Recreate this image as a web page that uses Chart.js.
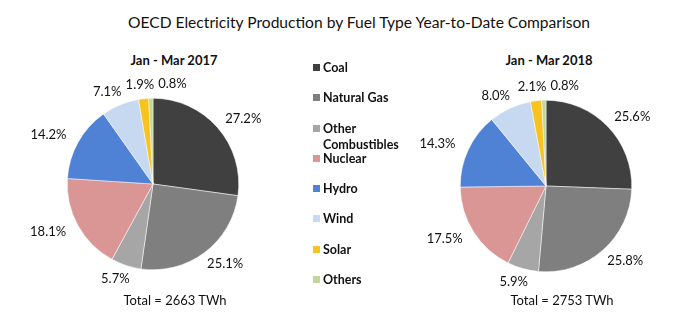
<!DOCTYPE html>
<html>
<head>
<meta charset="utf-8">
<script src="https://cdn.jsdelivr.net/npm/chart.js@4"></script>
<style>
  html, body { margin: 0; padding: 0; background: #fff; }
  body { width: 680px; height: 330px; position: relative; overflow: hidden; font-family: Lato, "Open Sans", sans-serif; color: #111; }
  .title { position: absolute; left: 0; width: 718px; top: 13px; text-align: center; font-size: 15.6px; }
  .sub { position: absolute; top: 52px; width: 200px; text-align: center; font-size: 13px; font-weight: bold; }
  .total { position: absolute; top: 292px; width: 200px; text-align: center; font-size: 13px; }
  .pie { position: absolute; }
  #legend { position: absolute; left: 313px; top: 60px; font-size: 12.5px; font-weight: bold; z-index: 2; }
  #legend .item { position: relative; height: 30.3px; padding-left: 10px; line-height: 16px; }
  #legend .box { position: absolute; left: 0; top: 4px; width: 7px; height: 7px; }
</style>
</head>
<body>
<div class="title">OECD Electricity Production by Fuel Type Year-to-Date Comparison</div>
<div class="sub" style="left:74px">Jan - Mar 2017</div>
<div class="sub" style="left:449px">Jan - Mar 2018</div>
<div class="pie" style="left:3px;top:64px;width:300px;height:240px"><canvas id="pie2017"></canvas></div>
<div class="pie" style="left:396px;top:66px;width:300px;height:240px"><canvas id="pie2018"></canvas></div>
<div id="legend"></div>
<div class="total" style="left:75px">Total = 2663 TWh</div>
<div class="total" style="left:462px">Total = 2753 TWh</div>
<script>
const fuels = ['Coal', 'Natural Gas', 'Other Combustibles', 'Nuclear', 'Hydro', 'Wind', 'Solar', 'Others'];
const share2017 = [27.2, 25.1, 5.7, 18.1, 14.2, 7.1, 1.9, 0.8];
const share2018 = [25.6, 25.8, 5.9, 17.5, 14.3, 8.0, 2.1, 0.8];

const fuelColors = ['#404040', '#7f7f7f', '#a6a6a6', '#d99694', '#4f81d4', '#c6d9f1', '#f7c31f', '#c3d69b'];
const FONT = 'Lato, "Open Sans", sans-serif';

// percent labels just outside each slice; a label that would hit the
// previous one is pushed to its right (the two small top slices)
const outsideLabels = {
  id: 'outsideLabels',
  afterDatasetsDraw(chart) {
    const ctx = chart.ctx;
    const meta = chart.getDatasetMeta(0);
    const values = chart.data.datasets[0].data;
    ctx.save();
    ctx.font = '13px ' + FONT;
    ctx.fillStyle = '#111';
    ctx.textAlign = 'center';
    ctx.textBaseline = 'middle';
    let prev = null;
    meta.data.forEach((arc, i) => {
      const p = arc.getProps(['x', 'y', 'startAngle', 'endAngle', 'outerRadius'], true);
      const mid = (p.startAngle + p.endAngle) / 2;
      const text = values[i].toFixed(1) + '%';
      const w = ctx.measureText(text).width;
      const h = 14;
      let cx = p.x + Math.cos(mid) * (p.outerRadius + 34);
      let cy = p.y + Math.sin(mid) * (p.outerRadius + 14);
      if (prev && Math.abs(cx - prev.cx) < (w + prev.w) / 2 + 2 && Math.abs(cy - prev.cy) < h) {
        cx = prev.cx + (w + prev.w) / 2 + 4;
      }
      ctx.fillText(text, cx, cy);
      prev = { cx, cy, w };
    });
    ctx.restore();
  }
};

function makePie(id, values) {
  return new Chart(document.getElementById(id), {
    type: 'pie',
    data: {
      labels: fuels,
      datasets: [{
        data: values,
        backgroundColor: fuelColors,
        borderColor: '#fff',
        borderWidth: 0.5
      }]
    },
    options: {
      responsive: true,
      maintainAspectRatio: false,
      animation: false,
      layout: { padding: { top: 34, bottom: 34 } },
      plugins: { legend: { display: false }, tooltip: { enabled: false } }
    },
    plugins: [outsideLabels]
  });
}

makePie('pie2017', share2017);
makePie('pie2018', share2018);

// legend built from the same arrays
const legend = document.getElementById('legend');
fuels.forEach((name, i) => {
  const item = document.createElement('div');
  item.className = 'item';
  item.innerHTML = '<span class="box" style="background:' + fuelColors[i] + '"></span>' +
    name.replace('Other Combustibles', 'Other<br>Combustibles');
  legend.appendChild(item);
});
</script>
</body>
</html>
